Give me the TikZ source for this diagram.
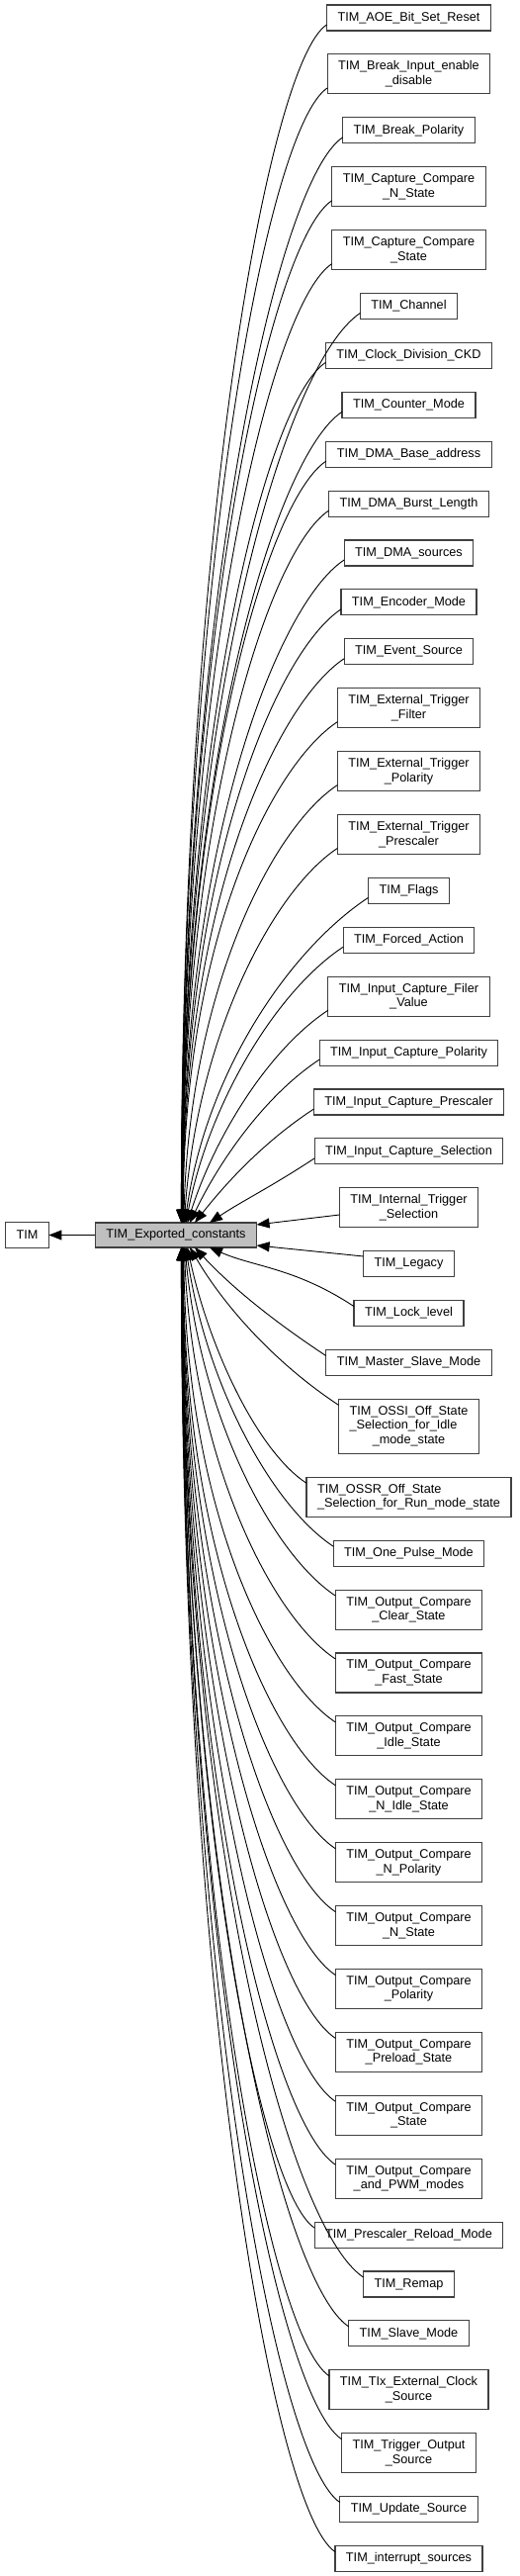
\documentclass[tikz,border=0pt]{standalone}
\usepackage{fontspec}
\setmainfont{Liberation Sans}
\usetikzlibrary{arrows.meta,positioning}

\begin{document}
\begin{tikzpicture}[
      x=1pt, y=1pt,
      every node/.style={font=\fontsize{12.7}{14.5}\selectfont},
      grp/.style={draw=black!75, line width=1.1pt, fill=white, align=center, inner xsep=11pt, inner ysep=2pt, minimum height=26pt, outer sep=0pt},
      two/.style={grp, minimum height=40pt},
      three/.style={grp, minimum height=55pt},
      main/.style={grp, fill=black!25, minimum height=25pt},
      arrow/.style={-{Triangle[length=13pt,width=10pt]}, line width=0.9pt}
  ]
    \useasboundingbox (-178,-1355.5) rectangle (347,1248.5);
    \node[main] (exp) at (0,0) {TIM\_Exported\_constants};
    \node[grp, left=47pt of exp] (tim) {TIM};
    % groups above
    \node[grp] (aoe) at (235.5,1230.5) {TIM\_AOE\_Bit\_Set\_Reset};
    \node[two, below=23.9pt of aoe] (brkin) {TIM\_Break\_Input\_enable\\\_disable};
    \node[grp, below=23.9pt of brkin] (brkpol) {TIM\_Break\_Polarity};
    \node[two, below=23.9pt of brkpol] (ccn) {TIM\_Capture\_Compare\\\_N\_State};
    \node[two, below=23.9pt of ccn] (ccs) {TIM\_Capture\_Compare\\\_State};
    \node[grp, below=23.9pt of ccs] (chan) {TIM\_Channel};
    \node[grp, below=23.9pt of chan] (ckd) {TIM\_Clock\_Division\_CKD};
    \node[grp, below=23.9pt of ckd] (cnt) {TIM\_Counter\_Mode};
    \node[grp, below=23.9pt of cnt] (dmabase) {TIM\_DMA\_Base\_address};
    \node[grp, below=23.9pt of dmabase] (dmaburst) {TIM\_DMA\_Burst\_Length};
    \node[grp, below=23.9pt of dmaburst] (dmasrc) {TIM\_DMA\_sources};
    \node[grp, below=23.9pt of dmasrc] (enc) {TIM\_Encoder\_Mode};
    \node[grp, below=23.9pt of enc] (evt) {TIM\_Event\_Source};
    \node[two, below=23.9pt of evt] (etf) {TIM\_External\_Trigger\\\_Filter};
    \node[two, below=23.9pt of etf] (etp) {TIM\_External\_Trigger\\\_Polarity};
    \node[two, below=23.9pt of etp] (etpsc) {TIM\_External\_Trigger\\\_Prescaler};
    \node[grp, below=23.9pt of etpsc] (flags) {TIM\_Flags};
    \node[grp, below=23.9pt of flags] (forced) {TIM\_Forced\_Action};
    \node[two, below=23.9pt of forced] (icf) {TIM\_Input\_Capture\_Filer\\\_Value};
    \node[grp, below=23.9pt of icf] (icpol) {TIM\_Input\_Capture\_Polarity};
    \node[grp, below=23.9pt of icpol] (icpsc) {TIM\_Input\_Capture\_Prescaler};
    \node[grp, below=23.9pt of icpsc] (icsel) {TIM\_Input\_Capture\_Selection};
    \node[two, below=23.9pt of icsel] (its) {TIM\_Internal\_Trigger\\\_Selection};
    % groups below
    \node[grp, below=23.9pt of its] (legacy) {TIM\_Legacy};
    \node[grp, below=23.9pt of legacy] (lock) {TIM\_Lock\_level};
    \node[grp, below=23.9pt of lock] (msm) {TIM\_Master\_Slave\_Mode};
    \node[three, below=23.9pt of msm] (ossi) {\begin{tabular}{@{}l@{}}TIM\_OSSI\_Off\_State\\\_Selection\_for\_Idle\\\multicolumn{1}{@{}c@{}}{\_mode\_state}\end{tabular}};
    \node[two, align=left, below=23.9pt of ossi] (ossr) {TIM\_OSSR\_Off\_State\\\_Selection\_for\_Run\_mode\_state};
    \node[grp, below=23.9pt of ossr] (opm) {TIM\_One\_Pulse\_Mode};
    \node[two, below=23.9pt of opm] (occlr) {TIM\_Output\_Compare\\\_Clear\_State};
    \node[two, below=23.9pt of occlr] (ocfast) {TIM\_Output\_Compare\\\_Fast\_State};
    \node[two, below=23.9pt of ocfast] (ocidle) {TIM\_Output\_Compare\\\_Idle\_State};
    \node[two, below=23.9pt of ocidle] (ocnidle) {TIM\_Output\_Compare\\\_N\_Idle\_State};
    \node[two, below=23.9pt of ocnidle] (ocnpol) {TIM\_Output\_Compare\\\_N\_Polarity};
    \node[two, below=23.9pt of ocnpol] (ocnst) {TIM\_Output\_Compare\\\_N\_State};
    \node[two, below=23.9pt of ocnst] (ocpol) {TIM\_Output\_Compare\\\_Polarity};
    \node[two, below=23.9pt of ocpol] (ocpre) {TIM\_Output\_Compare\\\_Preload\_State};
    \node[two, below=23.9pt of ocpre] (ocst) {TIM\_Output\_Compare\\\_State};
    \node[two, below=23.9pt of ocst] (ocpwm) {TIM\_Output\_Compare\\\_and\_PWM\_modes};
    \node[grp, below=23.9pt of ocpwm] (psc) {TIM\_Prescaler\_Reload\_Mode};
    \node[grp, below=23.9pt of psc] (remap) {TIM\_Remap};
    \node[grp, below=23.9pt of remap] (slave) {TIM\_Slave\_Mode};
    \node[two, below=23.9pt of slave] (tix) {TIM\_TIx\_External\_Clock\\\_Source};
    \node[two, below=23.9pt of tix] (trgo) {TIM\_Trigger\_Output\\\_Source};
    \node[grp, below=23.9pt of trgo] (upd) {TIM\_Update\_Source};
    \node[grp, below=23.9pt of upd] (irq) {TIM\_interrupt\_sources};

    \draw[arrow] (exp) -- (tim);
    % edges from above
    \draw[arrow] ([yshift=6pt]aoe.south west) .. controls +(-59.7,-39.3) and +(0,690.3) .. ([xshift=5.4pt]exp.north);
    \draw[arrow] ([yshift=6pt]brkin.south west) .. controls +(-60.9,-40.1) and +(0,653.8) .. ([xshift=5.4pt]exp.north);
    \draw[arrow] ([yshift=6pt]brkpol.south west) .. controls +(-66.6,-43.9) and +(0,625.4) .. ([xshift=5.5pt]exp.north);
    \draw[arrow] ([yshift=6pt]ccn.south west) .. controls +(-62.5,-41.1) and +(0,589) .. ([xshift=5.6pt]exp.north);
    \draw[arrow] ([yshift=6pt]ccs.south west) .. controls +(-63.3,-41.7) and +(0,552.6) .. ([xshift=5.7pt]exp.north);
    \draw[arrow] ([yshift=6pt]chan.south west) .. controls +(-75.1,-49.5) and +(0,524.1) .. ([xshift=5.8pt]exp.north);
    \draw[arrow] ([yshift=6pt]ckd.south west) .. controls +(-60.3,-39.7) and +(0,495.7) .. ([xshift=5.9pt]exp.north);
    \draw[arrow] ([yshift=6pt]cnt.south west) .. controls +(-66.8,-44) and +(0,467.2) .. ([xshift=6pt]exp.north);
    \draw[arrow] ([yshift=6pt]dmabase.south west) .. controls +(-59.8,-39.4) and +(0,438.8) .. ([xshift=6.1pt]exp.north);
    \draw[arrow] ([yshift=6pt]dmaburst.south west) .. controls +(-61,-40.1) and +(0,410.3) .. ([xshift=6.3pt]exp.north);
    \draw[arrow] ([yshift=6pt]dmasrc.south west) .. controls +(-67.4,-44.4) and +(0,381.9) .. ([xshift=6.5pt]exp.north);
    \draw[arrow] ([yshift=6pt]enc.south west) .. controls +(-66.1,-43.6) and +(0,353.5) .. ([xshift=6.7pt]exp.north);
    \draw[arrow] ([yshift=6pt]evt.south west) .. controls +(-67.2,-44.3) and +(0,325) .. ([xshift=7pt]exp.north);
    \draw[arrow] ([yshift=6pt]etf.south west) .. controls +(-64.7,-42.6) and +(0,288.6) .. ([xshift=7.3pt]exp.north);
    \draw[arrow] ([yshift=6pt]etp.south west) .. controls +(-64.5,-42.5) and +(6.3,238.5) .. ([xshift=7.8pt]exp.north);
    \draw[arrow] ([yshift=6pt]etpsc.south west) .. controls +(-64.2,-42.3) and +(13.3,190.8) .. ([xshift=8.3pt]exp.north);
    \draw[arrow] ([yshift=6pt]flags.south west) .. controls +(-76.3,-50.2) and +(22.3,156.8) .. ([xshift=9pt]exp.north);
    \draw[arrow] ([yshift=6pt]forced.south west) .. controls +(-65.2,-42.9) and +(24.7,125.5) .. ([xshift=10pt]exp.north);
    \draw[arrow] ([yshift=6pt]icf.south west) .. controls +(-59.2,-39) and +(28.8,89.4) .. ([xshift=11.5pt]exp.north);
    \draw[arrow] ([yshift=6pt]icpol.south west) .. controls +(-54.1,-35.6) and +(31,64.2) .. ([xshift=14pt]exp.north);
    \draw[arrow] ([yshift=6pt]icpsc.south west) .. controls +(-50,-32.9) and +(32.9,41.6) .. ([xshift=19pt]exp.north);
    \draw[arrow] ([yshift=6pt]icsel.south west) .. controls +(-43.9,-28.9) and +(32.6,21.8) .. ([xshift=34pt]exp.north);
    % edges from the side
    \draw[arrow] ([yshift=-7.2pt]its.west) -- ([yshift=10.5pt]exp.east);
    \draw[arrow] ([yshift=7.7pt]legacy.west) -- ([yshift=-10.5pt]exp.east);
    % edges from below
    \draw[arrow] ([yshift=-6pt]lock.north west) .. controls +(-59.9,39.4) and +(45,-19.8) .. ([xshift=34pt]exp.south);
    \draw[arrow] ([yshift=-6pt]msm.north west) .. controls +(-54.5,35.9) and +(36.4,-39.3) .. ([xshift=19pt]exp.south);
    \draw[arrow] ([yshift=-6pt]ossi.north west) .. controls +(-62.3,41) and +(36.2,-61.5) .. ([xshift=14pt]exp.south);
    \draw[arrow] ([yshift=-6pt]ossr.north west) .. controls +(-49.8,32.8) and +(22.2,-102.2) .. ([xshift=11.5pt]exp.south);
    \draw[arrow] ([yshift=-6pt]opm.north west) .. controls +(-61.9,40.8) and +(20.9,-139.9) .. ([xshift=10pt]exp.south);
    \draw[arrow] ([yshift=-6pt]occlr.north west) .. controls +(-63.1,41.6) and +(16,-172.5) .. ([xshift=9pt]exp.south);
    \draw[arrow] ([yshift=-6pt]ocfast.north west) .. controls +(-63.4,41.8) and +(9.1,-218.2) .. ([xshift=8.3pt]exp.south);
    \draw[arrow] ([yshift=-6pt]ocidle.north west) .. controls +(-63.7,41.9) and +(2.2,-268.3) .. ([xshift=7.8pt]exp.south);
    \draw[arrow] ([yshift=-6pt]ocnidle.north west) .. controls +(-63.8,42) and +(0,-310) .. ([xshift=7.3pt]exp.south);
    \draw[arrow] ([yshift=-6pt]ocnpol.north west) .. controls +(-64,42.1) and +(0,-346.4) .. ([xshift=7pt]exp.south);
    \draw[arrow] ([yshift=-6pt]ocnst.north west) .. controls +(-64.1,42.2) and +(0,-382.8) .. ([xshift=6.7pt]exp.south);
    \draw[arrow] ([yshift=-6pt]ocpol.north west) .. controls +(-64.2,42.3) and +(0,-419.2) .. ([xshift=6.5pt]exp.south);
    \draw[arrow] ([yshift=-6pt]ocpre.north west) .. controls +(-64.2,42.3) and +(0,-455.7) .. ([xshift=6.3pt]exp.south);
    \draw[arrow] ([yshift=-6pt]ocst.north west) .. controls +(-64.3,42.4) and +(0,-492.1) .. ([xshift=6.1pt]exp.south);
    \draw[arrow] ([yshift=-6pt]ocpwm.north west) .. controls +(-64.4,42.4) and +(0,-528.5) .. ([xshift=6pt]exp.south);
    \draw[arrow] ([yshift=-6pt]psc.north west) .. controls +(-55.4,36.5) and +(0,-564.9) .. ([xshift=5.9pt]exp.south);
    \draw[arrow] ([yshift=-6pt]remap.north west) .. controls +(-75.9,50) and +(0,-593.4) .. ([xshift=5.8pt]exp.south);
    \draw[arrow] ([yshift=-6pt]slave.north west) .. controls +(-69.8,46) and +(0,-621.8) .. ([xshift=5.7pt]exp.south);
    \draw[arrow] ([yshift=-6pt]tix.north west) .. controls +(-60.8,40.1) and +(0,-650.3) .. ([xshift=5.6pt]exp.south);
    \draw[arrow] ([yshift=-6pt]trgo.north west) .. controls +(-66.6,43.9) and +(0,-686.7) .. ([xshift=5.5pt]exp.south);
    \draw[arrow] ([yshift=-6pt]upd.north west) .. controls +(-65.8,43.4) and +(0,-723.1) .. ([xshift=5.4pt]exp.south);
    \draw[arrow] ([yshift=-6pt]irq.north west) .. controls +(-63.4,41.7) and +(0,-751.5) .. ([xshift=5.4pt]exp.south);
  \end{tikzpicture}
\end{document}
